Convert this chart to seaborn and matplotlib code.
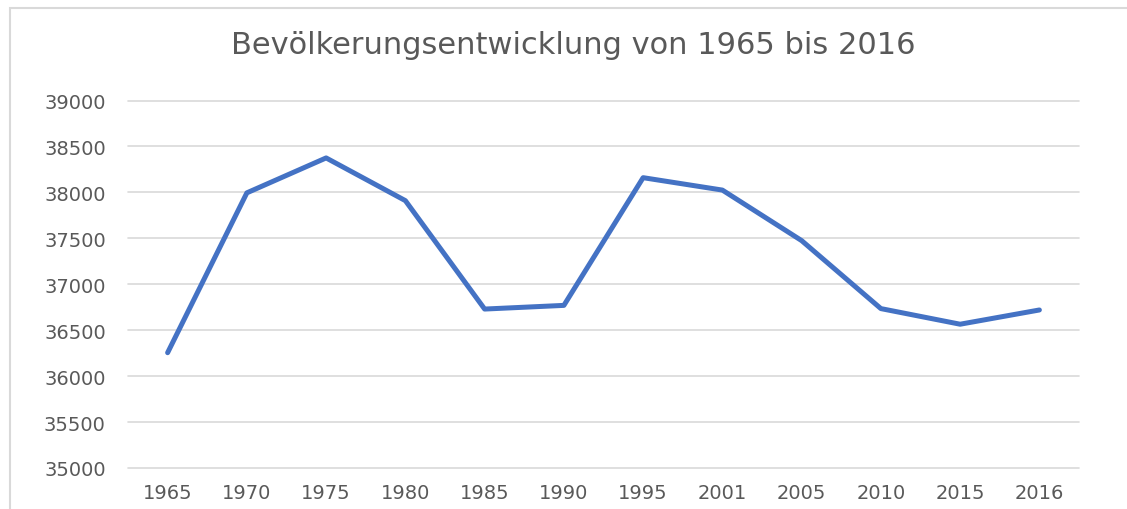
import matplotlib
matplotlib.use("Agg")
import matplotlib.pyplot as plt
from matplotlib.patches import Rectangle
import seaborn as sns
import pandas as pd

# Daten
jahre = ["1965", "1970", "1975", "1980", "1985", "1990",
         "1995", "2001", "2005", "2010", "2015", "2016"]
einwohner = [36255, 37995, 38375, 37910, 36730, 36770,
             38160, 38025, 37475, 36735, 36565, 36720]
y_ticks = [35000, 35500, 36000, 36500, 37000, 37500, 38000, 38500, 39000]

df = pd.DataFrame({"Jahr": jahre, "Einwohner": einwohner})

sns.set_theme(style="white")
plt.rcParams['font.family'] = ['DejaVu Sans']

text_color = '#595959'
grid_color = '#D9D9D9'

fig = plt.figure(figsize=(11.27, 5.10), dpi=100)
ax = fig.add_axes([128 / 1127, 1 - 469 / 510, (1079 - 128) / 1127, (469 - 101.5) / 510])

sns.lineplot(data=df, x="Jahr", y="Einwohner", ax=ax, color='#4472C4',
             linewidth=3.6, sort=False, solid_capstyle='round')

ax.set_ylim(35000, 39000)
ax.set_xlim(-0.5, len(jahre) - 0.5)
ax.set_yticks(y_ticks)
ax.set_yticklabels([str(t) for t in y_ticks])
ax.yaxis.grid(True, color=grid_color, linewidth=1.2)
for gl in ax.yaxis.get_gridlines():
    gl.set_clip_on(False)
ax.set_axisbelow(True)
for s in ax.spines.values():
    s.set_visible(False)
ax.tick_params(axis='y', length=0, pad=16, labelsize=14, labelcolor=text_color)
ax.tick_params(axis='x', length=0, pad=11, labelsize=14, labelcolor=text_color)
ax.set_xlabel('')
ax.set_ylabel('')

fig.text(0.5085, 1 - 45 / 510, 'Bevölkerungsentwicklung von 1965 bis 2016',
         ha='center', va='center', fontsize=22, color=text_color)

# Rahmen des Diagrammbereichs (angeschnitten)
fig.patches.append(Rectangle((10 / 1127, -0.1), 1.2, 1.1 - 9 / 510,
                             transform=fig.transFigure, fill=False,
                             edgecolor=grid_color, linewidth=1.5))

plt.savefig('out.png', dpi=100)
